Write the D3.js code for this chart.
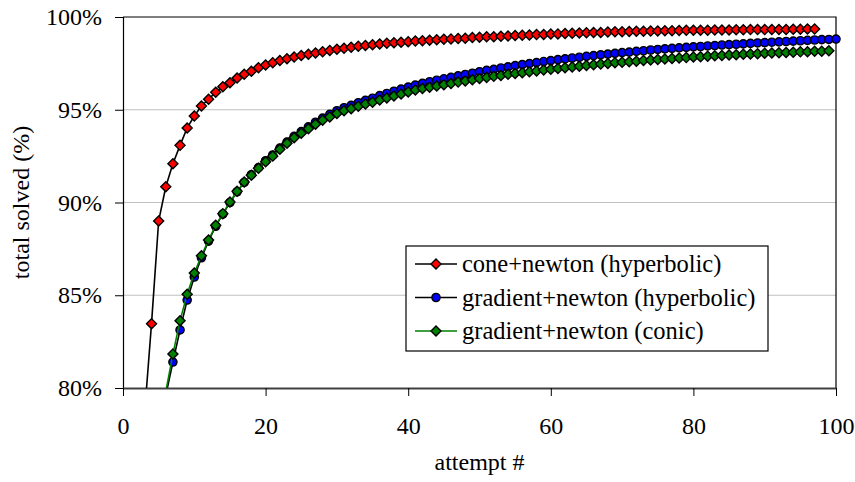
<!DOCTYPE html>
<html>
<head>
<meta charset="utf-8">
<script src="https://cdn.jsdelivr.net/npm/d3@7"></script>
<style>
  body { margin: 0; background: #fff; }
  svg text { font-family: "Liberation Serif", "Times New Roman", Times, "DejaVu Serif", serif !important; fill: #000; }
</style>
</head>
<body>
<div id="chart"></div>
<script>
"use strict";

// attempt # -> total solved (%), one array per series
var coneX = d3.range(3, 98);
var coneY = [78.5, 83.47, 89.0, 90.85, 92.09, 93.08, 94.02, 94.66, 95.2, 95.57,
  95.94, 96.24, 96.46, 96.71, 96.91, 97.07, 97.27, 97.41, 97.54, 97.65,
  97.75, 97.84, 97.93, 97.99, 98.06, 98.13, 98.2, 98.26, 98.32, 98.37,
  98.42, 98.46, 98.5, 98.54, 98.58, 98.61, 98.64, 98.67, 98.7, 98.72,
  98.75, 98.77, 98.8, 98.82, 98.84, 98.86, 98.89, 98.91, 98.93, 98.94,
  98.96, 98.98, 99.0, 99.02, 99.03, 99.05, 99.06, 99.08, 99.09, 99.11,
  99.12, 99.14, 99.15, 99.16, 99.17, 99.19, 99.2, 99.21, 99.22, 99.23,
  99.23, 99.24, 99.25, 99.26, 99.26, 99.27, 99.28, 99.28, 99.29, 99.29,
  99.3, 99.3, 99.3, 99.31, 99.31, 99.32, 99.32, 99.32, 99.33, 99.33,
  99.33, 99.34, 99.34, 99.35, 99.35];

var gradHypX = d3.range(6, 101);
var gradHypY = [79.6, 81.4, 83.13, 84.74, 85.98, 87.02, 87.92, 88.72, 89.38, 90.0,
  90.58, 91.08, 91.5, 91.88, 92.25, 92.56, 92.93, 93.26, 93.57, 93.82,
  94.08, 94.33, 94.55, 94.75, 94.95, 95.11, 95.24, 95.38, 95.51, 95.62,
  95.76, 95.88, 96.0, 96.11, 96.22, 96.33, 96.42, 96.51, 96.59, 96.67,
  96.75, 96.83, 96.9, 96.97, 97.05, 97.12, 97.18, 97.25, 97.31, 97.38,
  97.43, 97.49, 97.54, 97.6, 97.65, 97.7, 97.74, 97.79, 97.83, 97.88,
  97.92, 97.96, 98.0, 98.04, 98.08, 98.11, 98.15, 98.18, 98.22, 98.25,
  98.28, 98.31, 98.34, 98.36, 98.39, 98.41, 98.44, 98.46, 98.49, 98.51,
  98.53, 98.55, 98.58, 98.6, 98.62, 98.64, 98.66, 98.68, 98.7, 98.72,
  98.74, 98.76, 98.78, 98.79, 98.81];

var gradConX = d3.range(6, 100);
var gradConY = [79.8, 81.83, 83.63, 85.05, 86.2, 87.13, 87.98, 88.77, 89.4, 90.03,
  90.6, 91.1, 91.47, 91.84, 92.2, 92.5, 92.87, 93.19, 93.49, 93.73,
  93.98, 94.22, 94.43, 94.61, 94.8, 94.95, 95.06, 95.19, 95.31, 95.4,
  95.53, 95.63, 95.74, 95.85, 95.96, 96.06, 96.14, 96.21, 96.28, 96.35,
  96.42, 96.49, 96.55, 96.62, 96.68, 96.74, 96.8, 96.85, 96.91, 96.96,
  97.0, 97.05, 97.09, 97.14, 97.18, 97.22, 97.26, 97.3, 97.34, 97.38,
  97.42, 97.46, 97.49, 97.53, 97.56, 97.59, 97.62, 97.65, 97.68, 97.71,
  97.74, 97.76, 97.79, 97.81, 97.84, 97.86, 97.88, 97.91, 97.93, 97.95,
  97.97, 97.99, 98.01, 98.02, 98.04, 98.06, 98.07, 98.09, 98.1, 98.12,
  98.13, 98.15, 98.16, 98.18];

var xTicks = [0, 20, 40, 60, 80, 100];
var yTicks = [80, 85, 90, 95, 100];

var seriesNames = ["cone+newton (hyperbolic)", "gradient+newton (hyperbolic)", "gradient+newton (conic)"];

var series = [
  {name: seriesNames[0], xs: coneX, ys: coneY, line: "#000", fill: "#ff0000", shape: "diamond"},
  {name: seriesNames[1], xs: gradHypX, ys: gradHypY, line: "#000", fill: "#0000ff", shape: "circle"},
  {name: seriesNames[2], xs: gradConX, ys: gradConY, line: "#008000", fill: "#008000", shape: "diamond"}
];

var width = 855, height = 482;
var mLeft = 123, mRight = 836, mTop = 17, mBottom = 388;
var fontSize = "24px";

var svg = d3.select("#chart").append("svg")
    .attr("width", width)
    .attr("height", height);

var x = d3.scaleLinear().domain([0, 100]).range([mLeft, mRight]);
var y = d3.scaleLinear().domain([80, 100]).range([mBottom, mTop]);

// gridlines
svg.selectAll(".grid")
    .data(yTicks.filter(function(d) { return d > 80 && d < 100; }))
    .enter().append("line")
    .attr("x1", mLeft).attr("x2", mRight)
    .attr("y1", function(d) { return y(d); })
    .attr("y2", function(d) { return y(d); })
    .attr("stroke", "#c0c0c0").attr("stroke-width", 1.2);

// frame: top + right
svg.append("path")
    .attr("d", "M" + mLeft + "," + mTop + "H" + mRight + "V" + mBottom)
    .attr("fill", "none").attr("stroke", "#000").attr("stroke-width", 1.2);

var yAxis = svg.append("g")
    .attr("transform", "translate(" + mLeft + ",0)")
    .call(d3.axisLeft(y).tickValues(yTicks).tickSize(8).tickPadding(13)
      .tickFormat(function(d) { return d + "%"; }));
yAxis.attr("font-family", null);
yAxis.select(".domain").attr("stroke", "#000").attr("stroke-width", 1.2);
yAxis.selectAll("text").style("font-size", fontSize);

var xAxis = svg.append("g")
    .attr("transform", "translate(0," + mBottom + ")")
    .call(d3.axisBottom(x).tickValues(xTicks).tickSize(8).tickPadding(21).tickSizeOuter(0));
xAxis.attr("font-family", null);
xAxis.select(".domain").attr("stroke", "#404040").attr("stroke-width", 2);
xAxis.selectAll("text").style("font-size", fontSize);

svg.append("text")
    .attr("transform", "translate(29," + ((mTop + mBottom) / 2) + ") rotate(-90)")
    .attr("text-anchor", "middle")
    .style("font-size", fontSize)
    .text("total solved (%)");

svg.append("text")
    .attr("x", (mLeft + mRight) / 2)
    .attr("y", 470)
    .attr("text-anchor", "middle")
    .style("font-size", fontSize)
    .text("attempt #");

svg.append("clipPath").attr("id", "plot")
  .append("rect")
    .attr("x", mLeft).attr("y", mTop)
    .attr("width", mRight - mLeft).attr("height", mBottom - mTop);

var diamond = d3.symbol().type(d3.symbolDiamond2).size(64);

function drawMarker(sel, s) {
  if (s.shape === "circle") {
    sel.append("circle").attr("r", 4.1)
      .attr("fill", s.fill).attr("stroke", "#000").attr("stroke-width", 1.4);
  } else {
    sel.append("path").attr("d", diamond)
      .attr("fill", s.fill).attr("stroke", "#000").attr("stroke-width", 1.4);
  }
}

var line = d3.line()
    .x(function(d) { return x(d[0]); })
    .y(function(d) { return y(d[1]); });

series.forEach(function(s) {
  var pts = s.xs.map(function(v, i) { return [v, s.ys[i]]; });
  var g = svg.append("g");
  g.append("path")
    .datum(pts)
    .attr("clip-path", "url(#plot)")
    .attr("d", line)
    .attr("fill", "none")
    .attr("stroke", s.line)
    .attr("stroke-width", 1.6);

  // markers below the axis minimum are not drawn
  g.selectAll(".pt")
    .data(pts.filter(function(d) { return d[1] >= 80; }))
    .enter().append("g")
    .attr("class", "pt")
    .attr("transform", function(d) { return "translate(" + x(d[0]) + "," + y(d[1]) + ")"; })
    .each(function() { drawMarker(d3.select(this), s); });
});

// legend
var legend = svg.append("g").attr("transform", "translate(406,246)");
legend.append("rect")
    .attr("width", 362).attr("height", 105)
    .attr("fill", "#fff").attr("stroke", "#000").attr("stroke-width", 1.2);

var rows = legend.selectAll(".row")
    .data(series)
    .enter().append("g")
    .attr("class", "row")
    .attr("transform", function(d, i) { return "translate(0," + (18 + i * 33.5) + ")"; });

rows.append("line")
    .attr("x1", 9).attr("x2", 51)
    .attr("stroke", function(d) { return d.line; })
    .attr("stroke-width", 1.6);

rows.append("g")
    .attr("transform", "translate(30,0)")
    .each(function(d) { drawMarker(d3.select(this), d); });

rows.append("text")
    .attr("x", 56)
    .attr("y", 8)
    .style("font-size", "24.5px")
    .text(function(d) { return d.name; });
</script>
</body>
</html>
